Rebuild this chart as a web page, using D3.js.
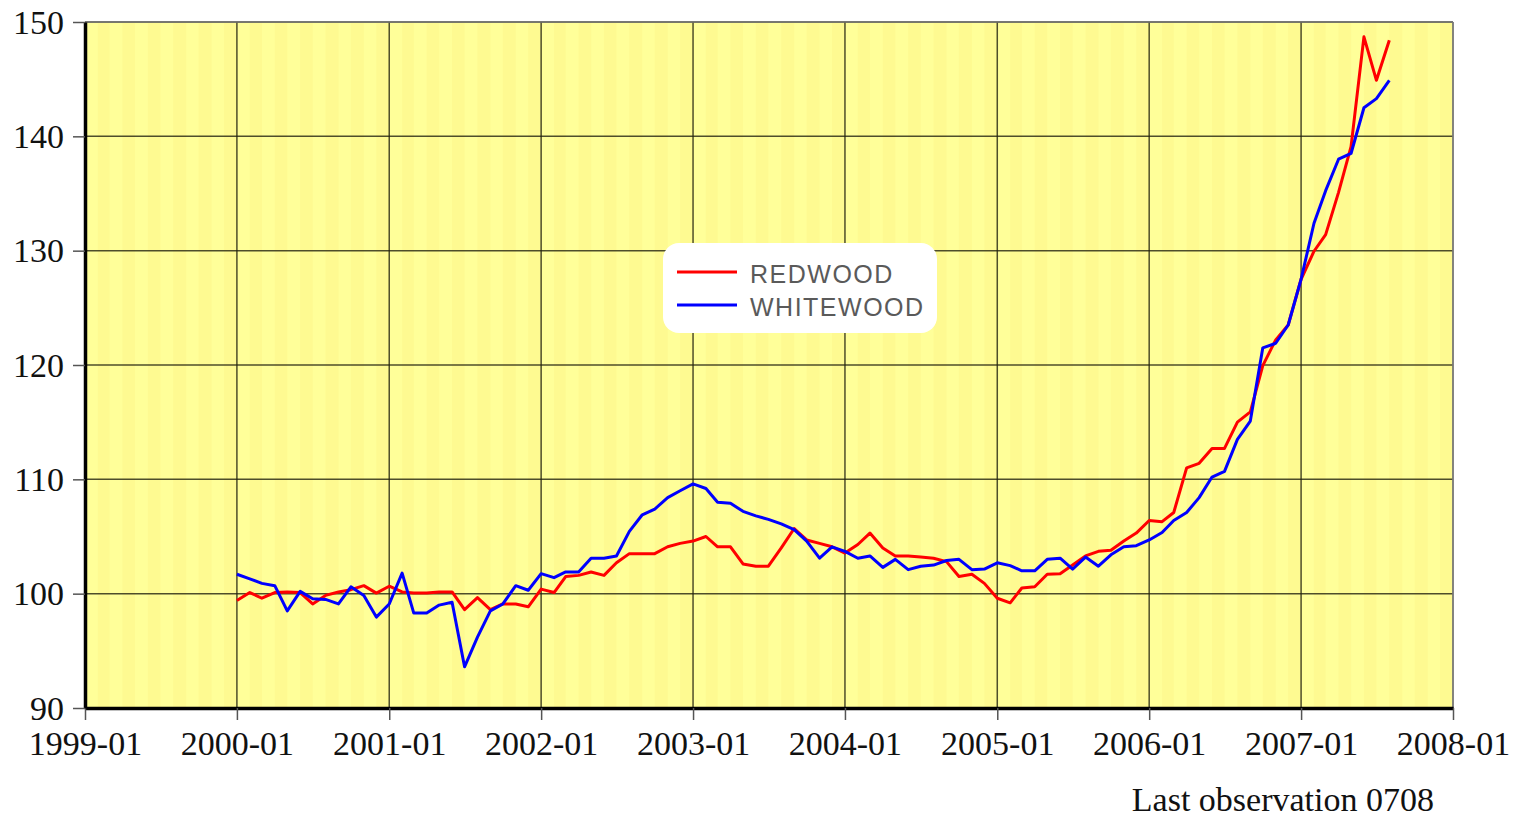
<!DOCTYPE html>
<html>
<head>
<meta charset="utf-8">
<script src="https://cdn.jsdelivr.net/npm/d3@7"></script>
<style>
  html, body { margin: 0; padding: 0; background: #fff; }
  svg { display: block; }
</style>
</head>
<body>
<svg id="chart"></svg>
<script>
// monthly series, first observation 2000-01, last 2007-08
const startMonth = "2000-01";
const redwood = [
  99.4, 100.1, 99.6, 100.1, 100.15, 100.1, 99.1, 99.85, 100.15, 100.35, 100.7, 100.05,
  100.65, 100.15, 100.05, 100.05, 100.15, 100.15, 98.6, 99.65, 98.6, 99.1, 99.1, 98.85,
  100.4, 100.1, 101.5, 101.6, 101.9, 101.6, 102.7, 103.5, 103.5, 103.5, 104.1, 104.4,
  104.6, 105.0, 104.1, 104.1, 102.6, 102.4, 102.4, 104.0, 105.7, 104.7, 104.4, 104.1,
  103.55, 104.3, 105.3, 104.0, 103.3, 103.3, 103.2, 103.1, 102.8, 101.5, 101.7, 100.9,
  99.6, 99.2, 100.5, 100.6, 101.7, 101.75, 102.5, 103.3, 103.7, 103.8, 104.6, 105.3,
  106.4, 106.3, 107.1, 111.0, 111.4, 112.7, 112.7, 115.0, 115.9, 119.95, 122.2, 123.5,
  127.5, 129.95, 131.4, 135.1, 139.1, 148.7, 144.9, 148.4
];
const whitewood = [
  101.7, 101.3, 100.9, 100.7, 98.5, 100.2, 99.55, 99.5, 99.1, 100.6, 99.85, 97.95,
  99.1, 101.8, 98.3, 98.3, 99.0, 99.25, 93.6, 96.2, 98.5, 99.1, 100.7, 100.3,
  101.75, 101.4, 101.9, 101.9, 103.1, 103.1, 103.3, 105.45, 106.9, 107.4, 108.4, 109.0,
  109.6, 109.2, 108.0, 107.9, 107.2, 106.8, 106.5, 106.1, 105.6, 104.6, 103.1, 104.1,
  103.7, 103.1, 103.3, 102.3, 103.0, 102.1, 102.4, 102.5, 102.9, 103.0, 102.1, 102.15,
  102.7, 102.45, 102.0, 102.0, 103.0, 103.1, 102.15, 103.2, 102.4, 103.4, 104.1, 104.2,
  104.7, 105.35, 106.4, 107.1, 108.4, 110.2, 110.7, 113.5, 115.1, 121.5, 121.9, 123.5,
  127.5, 132.4, 135.25, 138.0, 138.5, 142.5, 143.3, 144.9
];
const seriesNames = ["REDWOOD", "WHITEWOOD"];
const seriesColors = ["#ff0000", "#0000ff"];
const yTicks = [90, 100, 110, 120, 130, 140, 150];
const xTicks = ["1999-01","2000-01","2001-01","2002-01","2003-01","2004-01","2005-01","2006-01","2007-01","2008-01"];
const note = "Last observation 0708";

const width = 1522, height = 818;
const margin = {top: 22, right: 69, bottom: 110, left: 85};
const parse = d3.timeParse("%Y-%m");
const fmt = d3.timeFormat("%Y-%m");

const svg = d3.select("#chart").attr("width", width).attr("height", height);

const t0 = parse(startMonth);
const series = [redwood, whitewood].map((vals, si) => ({
  name: seriesNames[si],
  color: seriesColors[si],
  values: vals.map((v, i) => ({date: d3.timeMonth.offset(t0, i), value: v}))
}));

const x = d3.scaleTime()
  .domain([parse(xTicks[0]), parse(xTicks[xTicks.length - 1])])
  .range([margin.left, width - margin.right]);
const y = d3.scaleLinear()
  .domain([90, 150])
  .range([height - margin.bottom, margin.top]);

// plot background with faint monthly stripes
svg.append("rect")
  .attr("x", x.range()[0]).attr("y", y(150))
  .attr("width", x.range()[1] - x.range()[0])
  .attr("height", y(90) - y(150))
  .attr("fill", "#ffff99");

const months = d3.timeMonth.range(x.domain()[0], x.domain()[1]);
svg.append("g")
  .selectAll("rect")
  .data(months.filter((d, i) => i % 2 === 1))
  .join("rect")
  .attr("x", d => x(d))
  .attr("y", y(150))
  .attr("width", d => x(d3.timeMonth.offset(d, 1)) - x(d))
  .attr("height", y(90) - y(150))
  .attr("fill", "#fdf68a")
  .attr("opacity", 0.5);

// grid
const grid = svg.append("g").attr("stroke", "#22220f").attr("stroke-opacity", 0.8).attr("stroke-width", 1.5);
grid.selectAll("line.h")
  .data(yTicks)
  .join("line")
  .attr("class", "h")
  .attr("x1", x.range()[0]).attr("x2", x.range()[1])
  .attr("y1", d => y(d)).attr("y2", d => y(d));
grid.selectAll("line.v")
  .data(xTicks.map(parse))
  .join("line")
  .attr("class", "v")
  .attr("x1", d => x(d)).attr("x2", d => x(d))
  .attr("y1", y(150)).attr("y2", y(90));

// frame right
svg.append("line")
  .attr("x1", x.range()[1]).attr("x2", x.range()[1])
  .attr("y1", y(150)).attr("y2", y(90))
  .attr("stroke", "#888").attr("stroke-width", 1.5);

// lines
const line = d3.line()
  .x(d => x(d.date))
  .y(d => y(d.value));

svg.append("g")
  .selectAll("path")
  .data(series)
  .join("path")
  .attr("d", d => line(d.values))
  .attr("fill", "none")
  .attr("stroke", d => d.color)
  .attr("stroke-width", 3)
  .attr("stroke-linejoin", "round");

// axes
const xAxis = g => g
  .attr("transform", `translate(0,${y(90)})`)
  .call(d3.axisBottom(x).tickValues(xTicks.map(parse)).tickFormat(fmt).tickSize(12).tickSizeOuter(0))
  .call(g => g.select(".domain").attr("stroke", "#000").attr("stroke-width", 3.5))
  .call(g => g.selectAll(".tick line").attr("stroke", "#555").attr("stroke-width", 1.5))
  .call(g => g.selectAll(".tick text")
    .attr("y", 47)
    .attr("dy", 0)
    .attr("fill", "#111")
    .attr("font-family", "'Liberation Serif', 'Times New Roman', serif")
    .attr("font-size", 34));

const yAxis = g => g
  .attr("transform", `translate(${x.range()[0]},0)`)
  .call(d3.axisLeft(y).tickValues(yTicks).tickSize(12).tickSizeOuter(0))
  .call(g => g.select(".domain").attr("stroke", "#000").attr("stroke-width", 3.5))
  .call(g => g.selectAll(".tick line").attr("stroke", "#555").attr("stroke-width", 1.5))
  .call(g => g.selectAll(".tick text")
    .attr("x", -21)
    .attr("dy", "0.33em")
    .attr("fill", "#111")
    .attr("font-family", "'Liberation Serif', 'Times New Roman', serif")
    .attr("font-size", 34));

svg.append("line")
  .attr("x1", x.range()[0]).attr("x2", x.range()[1])
  .attr("y1", y(150)).attr("y2", y(150))
  .attr("stroke", "#777").attr("stroke-width", 1.5);

svg.append("g").call(xAxis);
svg.append("g").call(yAxis);

// legend
const legend = svg.append("g").attr("transform", "translate(663,243)");
legend.append("rect")
  .attr("width", 274).attr("height", 90)
  .attr("rx", 16).attr("ry", 16)
  .attr("fill", "#ffffff");
const li = legend.selectAll("g")
  .data(series)
  .join("g")
  .attr("transform", (d, i) => `translate(0,${29 + i * 33})`);
li.append("line")
  .attr("x1", 14).attr("x2", 74)
  .attr("stroke", d => d.color)
  .attr("stroke-width", 3);
li.append("text")
  .attr("x", 87)
  .attr("y", 11)
  .attr("fill", "#5a5a5a")
  .attr("font-family", "'Liberation Sans', Arial, sans-serif")
  .attr("font-size", 25)
  .attr("letter-spacing", 1.5)
  .text(d => d.name);

// note
svg.append("text")
  .attr("x", 1434)
  .attr("y", 811)
  .attr("text-anchor", "end")
  .attr("fill", "#111")
  .attr("font-family", "'Liberation Serif', 'Times New Roman', serif")
  .attr("font-size", 34)
  .text(note);
</script>
</body>
</html>
